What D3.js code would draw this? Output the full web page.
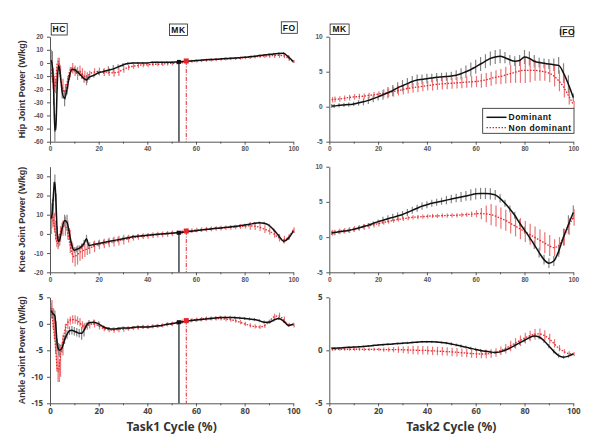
<!DOCTYPE html>
<html><head><meta charset="utf-8">
<script src="https://cdn.jsdelivr.net/npm/d3@7"></script>
<style>body{margin:0;background:#fff}</style>
</head><body><svg id="c" width="600" height="442"></svg>
<script>
// ---------- DATA ----------
const xL = [0.5,1,1.5,2,2.5,3,3.5,4,5,6,7,8,9,10,11,12,13,14,15,16,18,20,22,24,26,28,30,32,34,36,38,40,42,44,46,48,50,52,54,56,58,60,62,64,66,68,70,72,74,76,78,80,82,84,86,88,90,92,94,96,98,100];
const xR = [1,2,4,6,8,10,12,14,16,18,20,22,24,26,28,30,32,34,36,38,40,42,44,46,48,50,52,54,56,58,60,62,64,66,68,70,72,74,76,78,80,82,84,86,88,90,92,94,96,98,100];

const hipDomL = [2,-3,-20,-52,-45,-15,-2,-5, -22,-27,-20,-10,-5,-5,-6.5,-8,-10,-12,-13,-11,
  -9.5,-7.5,-6.5,-5.5,-4.5,-3,-1.5,-0.5,0,0,0,0,0.5,0.5,0.5,0.5,0.5,0.8,1,1.2,1.5,1.8,2.1,2.4,2.6,2.8,3,3.3,3.5,3.7,4,4.3,4.7,5.1,5.6,6,6.4,6.8,7.2,7.3,4.5,1];
const hipDomSdL = [8,12,12,8,6,5,4,4, 5,6,4,3,2,2,2,2,2,3,4,2,
  1.5,1.5,2,3,3,2,1.5,1,0.7,0.7,0.7,0.7,0.7,0.7,0.7,0.7,0.7,0.6,0.6,0.6,0.6,0.6,0.6,0.6,0.6,0.6,0.6,0.6,0.6,0.6,0.6,0.6,0.6,0.6,0.7,0.8,0.9,1,1,1,1.5,1];
const hipNonL = [-5,-12,-16,-18,-10,0,1,-8, -18,-22,-15,-7,-4,-6,-8,-6,-8,-10,-11,-9,
  -7,-6.5,-7,-7,-7.5,-7,-5,-3.5,-2.5,-2,-1.5,-1.5,-1,-1,-0.8,-0.5,-0.3,0,0.5,1.2,1.3,1.5,1.8,2,2.3,2.5,2.8,3,3.2,3.4,3.7,4,4.3,4.6,5,5.2,5.4,5.6,5.8,5.5,3.5,1];
const hipNonSdL = [6,8,6,5,6,4,3,6, 6,6,5,4,4,4,5,4,4,4,4,3,
  3,3,3,3,3,3,2.5,2,2,1.8,1.8,1.6,1.5,1.5,1.5,1.5,1.5,1.2,1.2,1.2,1.2,1.2,1.2,1.2,1.2,1.2,1.2,1.2,1.2,1.2,1.2,1.2,1.2,1.2,1.2,1.4,1.6,1.8,2,2,2,1];

const kneeDomL = [8,12,22,27,15,0,-4,-3, 3,7,6,0,-6,-8.5,-8,-7.5,-6.5,-5,-2.5,-6,
  -5.5,-5,-4.5,-4,-3.5,-3,-2.5,-2,-1.5,-1.2,-1,-0.7,-0.5,-0.2,0,0.2,0.4,0.6,0.8,1.1,1.4,1.7,2,2.3,2.6,2.9,3.1,3.4,3.6,3.9,4.2,4.6,5,5.5,5.8,5.6,4.5,2,-1,-3.8,-2.2,1.5];
const kneeDomSdL = [8,6,5,4,6,4,3,3, 3,3,4,3,2,1.5,1.5,1.5,1.5,2,2,1.5,
  1.5,1.5,1.5,1.5,1.5,1.5,1.2,1,1,1,0.9,0.8,0.8,
  0.7,0.7,0.7,0.7,0.7,0.7,0.7,0.7,0.7,0.7,0.7,0.7,0.7,0.7,0.7,0.7,0.7,0.7,0.7,0.7,0.7,0.7,0.7,0.8,0.9,1,1,1,1];
const kneeNonL = [8,10,6,2,-3,-5,-3,0, 3,4,2,-4,-10,-12,-11,-10,-9,-8.5,-8,-7.5,
  -6.5,-5.5,-5,-4.5,-4,-3.5,-3,-2.5,-2,-1.5,-1.2,-1,-0.7,-0.4,-0.2,0,0.3,0.6,1,1.5,1.7,2,2.2,2.4,2.6,2.8,3,3.2,3.4,3.6,3.8,4,4.2,4,3.5,2.5,1.5,0,-2,-3,-1.5,2];
const kneeNonSdL = [5,6,5,5,4,3,3,4, 4,5,5,6,5,5,5,4,4,3.5,3,3,
  3,2.5,2.5,2.5,2.5,2.5,2.5,2,1.5,1.5,1.5,1.5,1.5,1.5,1.5,1.5,1.5,
  1.2,1.2,1.2,1.2,1.2,1.2,1.2,1.2,1.2,1.2,1.2,1.2,1.2,1.2,1.2,2,2,2,2,2,2,2,2,1.5,1.5];

const ankleDomL = [2.5,2,1.8,1.5,-1,-4,-4.8,-5, -4.5,-3,-2,-1.3,-1.2,-1.4,-1.6,-1.8,-1.8,-1.2,-0.3,0.2,
  0.3,0,-0.6,-0.9,-1,-0.9,-0.8,-0.8,-0.7,-0.6,-0.6,-0.6,-0.5,-0.4,-0.3,-0.1,0,0.2,0.35,0.5,0.6,0.7,0.8,0.9,1,1.1,1.2,1.2,1.2,1.15,1.1,1,0.9,0.8,0.6,0.3,0.3,0.7,1,0.5,-0.3,-0.1];
const ankleDomSdL = [1.5,1,1,1,1.5,1.2,1.2,1.2, 1,0.8,0.8,0.8,0.8,0.8,0.8,0.8,1.2,1.2,0.5,0.5,
  0.5,0.5,0.3,0.3,0.3,0.3,0.3,0.3,0.3,0.3,0.3,0.3,0.3,0.3,0.3,0.3,0.3,0.3,0.3,0.3,0.3,0.3,0.3,0.3,0.3,0.3,0.3,0.3,0.3,0.3,0.3,0.3,0.3,0.3,0.3,0.3,0.3,0.3,0.3,0.3,0.3,0.3];
const ankleNonL = [3,1,-1,-3,-6,-8.5,-9,-7, -4,-1.5,0,0.6,0.8,0.8,0.6,0.3,-0.2,-0.5,-0.4,-0.2,
  0,-0.4,-0.9,-1.1,-1.2,-1.1,-1,-0.9,-0.8,-0.7,-0.6,-0.6,-0.5,-0.4,-0.3,-0.1,0,0.2,0.4,0.6,0.7,0.8,0.9,1,1,1,1,0.9,0.8,0.6,0.3,0,-0.3,-0.5,-0.6,-0.4,0.4,1.3,1.5,0.8,-0.2,-0.3];
const ankleNonSdL = [1.5,2,2,2.5,3,2.5,2,3, 2,1.5,1,0.8,0.8,0.8,0.8,0.8,0.7,0.7,0.7,0.7,
  0.7,0.7,0.5,0.5,0.5,0.5,0.5,
  0.4,0.4,0.4,0.4,0.4,0.4,0.4,0.4,0.4,0.4,0.4,0.4,0.4,0.4,0.4,0.4,0.4,0.4,0.4,0.4,0.4,0.4,0.4,0.4,0.4,0.4,0.4,0.4,0.4,0.4,
  0.6,0.6,0.6,0.4,0.4];

const hipDomR = [0.1,0.1,0.2,0.25,0.3,0.4,0.55,0.7,0.9,1.15,1.4, 1.7,2,2.3,2.7,3,3.3,3.6,3.8,3.9,4, 4.1,4.2,4.25,4.3,4.4,4.5,4.7,5,5.3,5.7, 6.1,6.5,6.9,7.1,7.2,7,6.7,6.5,6.6,7.1, 6.9,6.5,6.3,6.2,6.1,6,5.9,4.8,3.2,1.3];
const hipDomSdR = [0.3,0.3,0.3,0.3,0.3,0.3,0.4,0.5,0.5,0.5,0.5, 0.7,0.8,0.8,0.8,0.8,0.8,0.8,0.8,0.7,0.7, 0.6,0.6,0.6,0.6,0.6,0.7,0.8,0.9,1,1, 1,1,1,1,1,0.8,0.7,0.7,0.8,1, 1,0.9,0.7,0.7,0.7,0.9,1.2,1.4,1.3,0.6];
const hipNonR = [1,1.05,1.1,1.2,1.3,1.4,1.45,1.5,1.6,1.7,1.8, 1.9,2,2.15,2.3,2.45,2.6,2.7,2.8,2.9,3, 3.1,3.2,3.25,3.3,3.35,3.4,3.45,3.5,3.55,3.6, 3.7,3.8,4,4.2,4.3,4.5,4.7,4.9,5.1,5.2, 5.2,5.2,5.1,5,4.8,4.4,3.7,2.8,1.6,0.3];
const hipNonSdR = [0.4,0.4,0.4,0.4,0.4,0.4,0.4,0.4,0.4,0.4,0.4, 0.6,0.6,0.7,0.7,0.7,0.7,0.7,0.7,0.7,0.7, 0.8,0.8,0.8,0.8,0.8,0.8,0.8,0.8,0.8,0.8, 1,1,1,1,1.1,1.2,1.3,1.5,1.7,1.8, 1.7,1.5,1.4,1.3,1.3,1.5,1.5,1.5,1.3,0.5];

const kneeDomR = [0.6,0.65,0.75,0.85,0.95,1.1,1.3,1.5,1.7,1.95,2.2, 2.4,2.6,2.8,3,3.2,3.5,3.8,4.1,4.4,4.6, 4.8,4.95,5.1,5.25,5.4,5.55,5.7,5.85,6,6.15, 6.2,6.2,6.15,6,5.5,4.8,4,3.1,2,1, 0,-1.1,-2.2,-3.2,-3.7,-3.4,-2,0,1.8,3.5];
const kneeDomSdR = [0.3,0.3,0.3,0.3,0.3,0.3,0.3,0.3,0.3,0.3,0.3, 0.5,0.5,0.5,0.5,0.5,0.5,0.5,0.5,0.5,0.5, 0.5,0.5,0.5,0.6,0.6,0.6,0.7,0.7,0.8,0.8, 0.8,0.8,0.8,0.7,0.6,0.5,0.5,0.5,0.5,0.5, 0.5,0.6,0.7,0.7,0.7,0.7,0.8,1.2,1.3,1];
const kneeNonR = [0.6,0.65,0.8,0.9,1,1.15,1.3,1.45,1.6,1.75,1.9, 2.05,2.2,2.35,2.5,2.6,2.7,2.8,2.85,2.9,2.95, 3,3,3.05,3.05,3.1,3.1,3.15,3.2,3.25,3.3, 3.35,3.3,3.2,3,2.7,2.4,2,1.6,1.2,0.8, 0.4,0,-0.4,-0.8,-1.2,-1.5,-1.2,0,1.5,2.8];
const kneeNonSdR = [0.4,0.4,0.4,0.4,0.4,0.4,0.4,0.4,0.4,0.4,0.4, 0.3,0.3,0.3,0.3,0.3,0.3,0.3,0.3,0.3,0.3, 0.3,0.3,0.3,0.3,0.3,0.3,0.3,0.3,0.4,0.5, 0.8,1.2,1.5,1.5,1.5,1.5,1.5,1.5,1.5,1.5, 1.5,1.5,1.5,1.5,1.5,1.2,1.2,1.2,1.2,1.2];

const ankleDomR = [0.2,0.2,0.22,0.25,0.28,0.3,0.33,0.36,0.4,0.45,0.5, 0.53,0.56,0.6,0.63,0.67,0.7,0.74,0.77,0.8,0.8, 0.8,0.78,0.74,0.68,0.6,0.5,0.4,0.3,0.18,0.08, -0.02,-0.1,-0.16,-0.2,-0.15,0,0.2,0.45,0.7,0.95, 1.2,1.35,1.25,0.9,0.4,-0.1,-0.5,-0.65,-0.55,-0.35];
const ankleDomSdR = [0.1,0.1,0.1,0.1,0.1,0.1,0.1,0.1,0.1,0.1,0.1, 0.1,0.1,0.1,0.1,0.1,0.1,0.1,0.1,0.1,0.1, 0.1,0.1,0.1,0.12,0.15,0.15,0.15,0.15,0.15,0.15, 0.15,0.15,0.15,0.15,0.15,0.15,0.15,0.2,0.2,0.2, 0.2,0.2,0.2,0.2,0.2,0.2,0.2,0.15,0.15,0.1];
const ankleNonR = [0.1,0.1,0.1,0.1,0.1,0.1,0.1,0.09,0.09,0.08,0.08, 0.07,0.07,0.06,0.06,0.05,0.03,0.02,0,0,-0.02, -0.05,-0.07,-0.1,-0.12,-0.15,-0.18,-0.22,-0.26,-0.3,-0.33, -0.35,-0.35,-0.3,-0.2,-0.05,0.15,0.4,0.65,0.9,1.15, 1.35,1.5,1.55,1.4,1.1,0.65,0.2,-0.1,-0.3,-0.35];
const ankleNonSdR = [0.15,0.15,0.15,0.15,0.15,0.15,0.15,0.15,0.15,0.15,0.15, 0.2,0.2,0.25,0.3,0.3,0.35,0.4,0.4,0.4,0.4, 0.4,0.4,0.4,0.4,0.4,0.4,0.4,0.4,0.4,0.4, 0.4,0.4,0.4,0.4,0.4,0.45,0.5,0.5,0.5,0.5, 0.5,0.5,0.5,0.5,0.45,0.4,0.3,0.2,0.2,0.2];

const yTicksHipL = [-60,-50,-40,-30,-20,-10,0,10,20];
const yTicksKneeL = [-20,-10,0,10,20,30];
const yTicksAnkleL = [-15,-10,-5,0,5];
const yTicksR = [-5,0,5,10];
const yTicksAnkleR = [-5,0,5];
const xTicks = [0,20,40,60,80,100];
const xMinorTicks = [10,30,50,70,90];

const yLabels = ["Hip Joint Power (W/kg)","Knee Joint Power (W/kg)","Ankle Joint Power (W/kg)"];
const xTitles = ["Task1 Cycle (%)","Task2 Cycle (%)"];
const seriesNames = ["Dominant","Non dominant"];
const eventsLeft = ["HC","MK","FO"];
const eventsRight = ["MK","IFO"];
// MK event (% of cycle) and marker values per joint (hip, knee, ankle)
const mkDom = 53, mkNon = 56;
const mkDomVal = [0.8, 0.6, 0.3];
const mkNonVal = [1.5, 1.5, 0.6];

// ---------- LAYOUT ----------
const colX = [[50,293.3],[329.3,573.3]];
const rowY = [[36.7,141.7],[166.7,272.3],[297.3,403.3]];
const panels = [
  {r:0,c:0,dom:[-60,20],ticks:yTicksHipL,xs:xL,d:hipDomL,ds:hipDomSdL,n:hipNonL,ns:hipNonSdL},
  {r:0,c:1,dom:[-5,10],ticks:yTicksR,xs:xR,d:hipDomR,ds:hipDomSdR,n:hipNonR,ns:hipNonSdR},
  {r:1,c:0,dom:[-20,35],ticks:yTicksKneeL,xs:xL,d:kneeDomL,ds:kneeDomSdL,n:kneeNonL,ns:kneeNonSdL},
  {r:1,c:1,dom:[-5,10],ticks:yTicksR,xs:xR,d:kneeDomR,ds:kneeDomSdR,n:kneeNonR,ns:kneeNonSdR},
  {r:2,c:0,dom:[-15,5],ticks:yTicksAnkleL,xs:xL,d:ankleDomL,ds:ankleDomSdL,n:ankleNonL,ns:ankleNonSdL},
  {r:2,c:1,dom:[-5,5],ticks:yTicksAnkleR,xs:xR,d:ankleDomR,ds:ankleDomSdR,n:ankleNonR,ns:ankleNonSdR}
];
panels.forEach((p,i)=>{
  [p.d,p.ds,p.n,p.ns].forEach((a,j)=>{ if(a.length!==p.xs.length) throw new Error("length mismatch panel "+i+" arr "+j+": "+a.length+" vs "+p.xs.length); });
});

const BLACK="#111", GRAYBAR="#858585", RED="#e3262b", REDBAR="#ec7477";
const svg = d3.select("#c");
const FONT = "Arial, 'Liberation Sans', sans-serif";

panels.forEach(p=>{
  const [xa,xb] = colX[p.c], [ya,yb] = rowY[p.r];
  const x = d3.scaleLinear().domain([0,100]).range([xa,xb]);
  const y = d3.scaleLinear().domain(p.dom).range([yb,ya]);
  const g = svg.append("g");
  const bottomRow = p.r===2;

  // axes
  const ya_ = g.append("g").attr("transform",`translate(${xa},0)`)
    .call(d3.axisLeft(y).tickValues(p.ticks).tickSize(3).tickSizeOuter(0).tickFormat(d=>String(d)));
  const xa_ = g.append("g").attr("transform",`translate(0,${yb})`)
    .call(d3.axisBottom(x).tickValues(xTicks).tickSize(3).tickSizeOuter(0).tickFormat(d=>String(d)));
  g.append("g").attr("transform",`translate(0,${yb})`)
    .call(d3.axisBottom(x).tickValues(xMinorTicks).tickSize(2).tickSizeOuter(0).tickFormat(""))
    .select(".domain").remove();
  g.selectAll(".domain").attr("stroke","#555").attr("stroke-width",1);
  g.selectAll(".tick line").attr("stroke","#555");
  [ya_,xa_].forEach(a=>a.selectAll("text")
    .attr("font-family", bottomRow ? "'Noto Sans', sans-serif" : FONT)
    .attr("font-weight","bold")
    .attr("font-size", bottomRow ? 8 : 6.5)
    .attr("fill", bottomRow ? "#444" : "#555"));
  xa_.selectAll("text").attr("dy", bottomRow ? "0.6em" : "0.5em");
  ya_.selectAll("text").attr("dx", "-0.1em");

  const idx = d3.range(p.xs.length);
  // error bars: dominant (gray) then non-dominant (red)
  g.append("g").selectAll("line").data(idx).join("line")
    .attr("x1",i=>x(p.xs[i])).attr("x2",i=>x(p.xs[i]))
    .attr("y1",i=>y(p.d[i]-p.ds[i])).attr("y2",i=>y(p.d[i]+p.ds[i]))
    .attr("stroke",GRAYBAR).attr("stroke-width",1.2);
  g.append("g").selectAll("line").data(idx).join("line")
    .attr("x1",i=>x(p.xs[i])+0.8).attr("x2",i=>x(p.xs[i])+0.8)
    .attr("y1",i=>y(p.n[i]-p.ns[i])).attr("y2",i=>y(p.n[i]+p.ns[i]))
    .attr("stroke",REDBAR).attr("stroke-width",1.2);

  const line = arr => d3.line().x((v,i)=>x(p.xs[i])).y(v=>y(v)).curve(d3.curveMonotoneX)(arr);
  g.append("path").attr("d",line(p.n)).attr("fill","none").attr("stroke",RED)
    .attr("stroke-width",1.3).attr("stroke-dasharray","1.5,1.5");
  g.append("path").attr("d",line(p.d)).attr("fill","none").attr("stroke",BLACK)
    .attr("stroke-width",1.5);

  if(p.c===0){
    // MK event lines & markers
    g.append("line").attr("x1",x(mkDom)).attr("x2",x(mkDom))
      .attr("y1",y(mkDomVal[p.r])).attr("y2",yb).attr("stroke",BLACK).attr("stroke-width",1.2);
    g.append("line").attr("x1",x(mkNon)).attr("x2",x(mkNon))
      .attr("y1",y(mkNonVal[p.r])).attr("y2",yb).attr("stroke",RED).attr("stroke-width",1)
      .attr("stroke-dasharray","4,1.5,1,1.5");
    g.append("rect").attr("x",x(mkDom)-2).attr("y",y(mkDomVal[p.r])-2).attr("width",4).attr("height",4).attr("fill",BLACK);
    g.append("rect").attr("x",x(mkNon)-2.5).attr("y",y(mkNonVal[p.r])-2.5).attr("width",5).attr("height",5).attr("fill",RED);
  }

  // y label
  if(p.c===0){
    svg.append("text").attr("transform",`translate(25,${(ya+yb)/2}) rotate(-90)`)
      .attr("text-anchor","middle").attr("font-family",FONT).attr("font-weight","bold")
      .attr("font-size",9).attr("fill","#333").text(yLabels[p.r]);
  }
  if(bottomRow){
    svg.append("text").attr("x",(xa+xb)/2).attr("y",431).attr("text-anchor","middle")
      .attr("font-family","'Noto Sans', sans-serif").attr("font-weight","bold")
      .attr("font-size",12).attr("fill","#333").text(xTitles[p.c]);
  }
});

// event label boxes (top row)
function eventBox(label, cx, top, w, h){
  svg.append("rect").attr("x",cx-w/2).attr("y",top).attr("width",w).attr("height",h)
    .attr("fill","#fff").attr("stroke","#222").attr("stroke-width",0.8);
  svg.append("text").attr("x",cx).attr("y",top+h/2+3).attr("text-anchor","middle")
    .attr("font-family",FONT).attr("font-weight","bold").attr("font-size",8.5)
    .attr("letter-spacing",0.6).attr("fill","#111").text(label);
}
const boxLeft = [[59.2,23.5,16,11.5],[178.5,24,18,11.5],[289.3,21.8,16,11.5]];
eventsLeft.forEach((l,i)=>eventBox(l,...boxLeft[i]));
const boxRight = [[339.6,24,19,10.5],[567.3,26.7,13,10]];
eventsRight.forEach((l,i)=>eventBox(l,...boxRight[i]));

// legend
const lg = svg.append("g");
lg.append("rect").attr("x",482.7).attr("y",108.3).attr("width",91.3).attr("height",25)
  .attr("fill","#fff").attr("stroke","#222").attr("stroke-width",0.8);
lg.append("line").attr("x1",486.5).attr("x2",506.5).attr("y1",117.3).attr("y2",117.3)
  .attr("stroke",BLACK).attr("stroke-width",1.5);
lg.append("line").attr("x1",486.5).attr("x2",506.5).attr("y1",127.7).attr("y2",127.7)
  .attr("stroke",RED).attr("stroke-width",1.3).attr("stroke-dasharray","1.5,1.5");
seriesNames.forEach((s,i)=>{
  lg.append("text").attr("x",508.5).attr("y",120.3+i*10.4).attr("font-family",FONT)
    .attr("font-weight","bold").attr("font-size",8.5).attr("letter-spacing",0.5)
    .attr("fill","#111").text(s);
});
</script></body></html>
